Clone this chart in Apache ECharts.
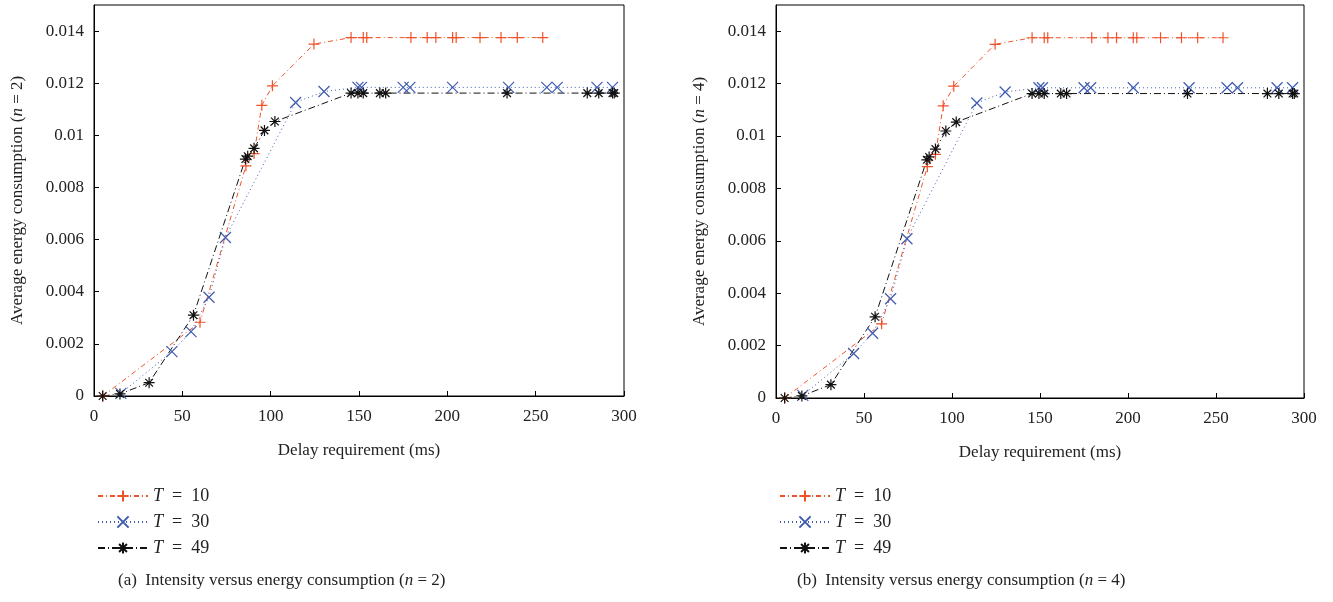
<!DOCTYPE html>
<html>
<head>
<meta charset="utf-8">
<script src="https://cdn.jsdelivr.net/npm/echarts@6/dist/echarts.min.js"></script>
<style>html,body{margin:0;background:#fff}#main{width:1333px;height:602px}</style>
</head>
<body>
<div id="main"></div>
<script>
// data (delay ms, energy)
const redX = [5, 60, 86, 90.6, 95, 101, 124.5, 145.5, 152.4, 154.4, 179.4, 188.6, 193.5, 203, 205, 218.5, 230.4, 239.6, 254];
const redY = [0, 0.00283, 0.00883, 0.0093, 0.01115, 0.0119, 0.0135, 0.01375, 0.01375, 0.01375, 0.01375, 0.01375, 0.01375, 0.01375, 0.01375, 0.01375, 0.01375, 0.01375, 0.01375];
const blueX = [15.2, 44.1, 54.9, 65.1, 74.4, 114.1, 130.2, 149.4, 151.4, 175, 178.8, 203, 234.7, 256.3, 262.2, 284.7, 293.5];
const blueY = [0.0001, 0.0017, 0.00247, 0.00379, 0.00608, 0.01126, 0.01168, 0.01184, 0.01184, 0.01184, 0.01184, 0.01184, 0.01184, 0.01184, 0.01184, 0.01184, 0.01184];
const blackX = [4.9, 14.7, 31.2, 56.3, 85.7, 87, 90.6, 96.5, 102.4, 145.5, 149.4, 152.4, 161.8, 165.1, 233.8, 279.2, 285.7, 293.5, 294.5];
const blackY = [0, 0.00008, 0.00051, 0.0031, 0.00909, 0.0092, 0.0095, 0.01019, 0.01053, 0.01162, 0.01162, 0.01162, 0.01162, 0.01162, 0.01162, 0.01162, 0.01162, 0.01162, 0.01162];
const names = ['T = 10', 'T = 30', 'T = 49'];

const font = 'Liberation Serif';
const zip = (xs, ys) => xs.map((x, i) => [x, ys[i]]);
const plus = 'path://M0,5L10,5M5,0L5,10';
const cross = 'path://M0,0L10,10M10,0L0,10';
const star = 'path://M0,5L10,5M5,0L5,10M1.5,1.5L8.5,8.5M8.5,1.5L1.5,8.5';

function series(idx) {
  const mk = (name, data, color, sym, dash) => ({
    name, type: 'line', xAxisIndex: idx, yAxisIndex: idx, data,
    symbol: sym, symbolSize: 11, showSymbol: true,
    lineStyle: { color, width: 1, type: dash },
    itemStyle: { color: 'none', borderColor: color, borderWidth: 1.2 }
  });
  return [
    mk(names[0], zip(redX, redY), '#f0522a', plus, [5, 3, 1, 3]),
    mk(names[1], zip(blueX, blueY), '#3f5bb0', cross, [1, 3]),
    mk(names[2], zip(blackX, blackY), '#111', star, [7, 3, 1, 3])
  ];
}

const axisX = (i, name) => ({
  gridIndex: i, type: 'value', min: 0, max: 300, interval: 50,
  name, nameLocation: 'middle', nameGap: 46,
  nameTextStyle: { fontFamily: font, fontSize: 17, color: '#222' },
  axisLine: { onZero: false, lineStyle: { color: '#000' } },
  axisTick: { inside: true, length: 5, lineStyle: { color: '#000' } },
  axisLabel: { fontFamily: font, fontSize: 17, color: '#222', margin: 12 },
  splitLine: { show: false }
});
const axisY = (i, name) => ({
  gridIndex: i, type: 'value', min: 0, max: 0.015, interval: 0.002,
  name, nameLocation: 'middle', nameGap: 68,
  nameTextStyle: { fontFamily: font, fontSize: 17, color: '#222',
    rich: { it: { fontStyle: 'italic', fontFamily: font, fontSize: 17 } } },
  axisLine: { lineStyle: { color: '#000' } },
  axisTick: { inside: true, length: 5, lineStyle: { color: '#000' } },
  axisLabel: { fontFamily: font, fontSize: 17, color: '#222', showMaxLabel: false, margin: 10,
    formatter: v => v === 0 ? '0' : String(+v.toFixed(3)) },
  splitLine: { show: false }
});

const legend = (left) => ({
  orient: 'vertical', left, top: 482, itemGap: 8, itemWidth: 50, itemHeight: 14,
  data: names,
  formatter: n => '{it|T}  =  ' + n.split('= ')[1],
  textStyle: { fontFamily: font, fontSize: 18, color: '#222', rich: { it: { fontStyle: 'italic', fontFamily: font, fontSize: 18 } } }
});

const s0 = series(0), s1 = series(1);
const chart = echarts.init(document.getElementById('main'));
chart.setOption({
  animation: false,
  grid: [
    { left: 94, width: 530, top: 5, height: 391, show: true, borderColor: '#000', borderWidth: 1 },
    { left: 776, width: 528, top: 5, height: 393, show: true, borderColor: '#000', borderWidth: 1 }
  ],
  xAxis: [axisX(0, 'Delay requirement (ms)'), axisX(1, 'Delay requirement (ms)')],
  yAxis: [axisY(0, 'Average energy consumption ({it|n} = 2)'), axisY(1, 'Average energy consumption ({it|n} = 4)')],
  legend: [legend(92), legend(774)],
  series: s0.concat(s1),
  graphic: [
    { type: 'text', left: 118, top: 572, style: { text: '(a)  Intensity versus energy consumption ({i|n} = 2)', font: '17px "Liberation Serif"', fill: '#222', rich: { i: { fontStyle: 'italic', fontFamily: font, fontSize: 17 } } } },
    { type: 'text', left: 797, top: 572, style: { text: '(b)  Intensity versus energy consumption ({i|n} = 4)', font: '17px "Liberation Serif"', fill: '#222', rich: { i: { fontStyle: 'italic', fontFamily: font, fontSize: 17 } } } }
  ]
});
</script>
</body>
</html>
